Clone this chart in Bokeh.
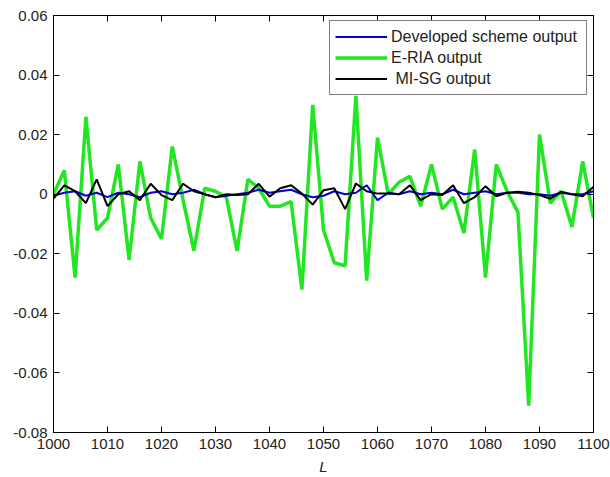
from bokeh.plotting import figure
from bokeh.models import (Range1d, FixedTicker, LinearAxis, Legend, LegendItem,
                          CustomJSTickFormatter)
from bokeh.embed import file_html
from bokeh.resources import INLINE

# ---------------- data ----------------
L = [1000, 1002, 1004, 1006, 1008, 1010, 1012, 1014, 1016, 1018,
     1020, 1022, 1024, 1026, 1028, 1030, 1032, 1034, 1036, 1038,
     1040, 1042, 1044, 1046, 1048, 1050, 1052, 1054, 1056, 1058,
     1060, 1062, 1064, 1066, 1068, 1070, 1072, 1074, 1076, 1078,
     1080, 1082, 1084, 1086, 1088, 1090, 1092, 1094, 1096, 1098, 1100]

developed = [-0.0005, 0.0005, 0.001, -0.0005, 0.0005, -0.001, 0.0005, 0.0, -0.001, 0.0005,
             0.001, 0.0, 0.0005, 0.0015, 0.0, -0.001, -0.0005, 0.0, 0.0005, 0.0015,
             0.0005, 0.001, 0.0015, 0.0, -0.001, -0.0005, 0.001, 0.0, 0.0005, 0.003,
             -0.002, 0.0005, 0.0, 0.001, 0.0, 0.0005, 0.0, 0.0015, 0.0, 0.0005,
             0.001, 0.0, 0.0005, 0.0005, 0.0, 0.0, -0.0005, 0.0005, 0.0, 0.0, 0.001]

eria = [0.000, 0.008, -0.028, 0.026, -0.012, -0.008, 0.010, -0.022, 0.011, -0.008,
        -0.015, 0.016, -0.002, -0.019, 0.002, 0.001, -0.001, -0.019, 0.005, 0.002,
        -0.004, -0.004, -0.0025, -0.032, 0.030, -0.012, -0.023, -0.024, 0.033, -0.029,
        0.019, 0.000, 0.004, 0.006, -0.004, 0.010, -0.005, -0.001, -0.013, 0.015,
        -0.028, 0.010, 0.001, -0.006, -0.071, 0.020, -0.003, 0.001, -0.011, 0.011, -0.008]

misg = [-0.0015, 0.003, 0.001, -0.003, 0.005, -0.004, 0.000, 0.001, -0.002, 0.0035,
        -0.0003, -0.002, 0.0035, 0.001, 0.0, -0.001, 0.0, -0.0003, 0.0, 0.0035,
        -0.0008, 0.002, 0.003, 0.0002, -0.0035, 0.0013, 0.002, -0.005, 0.0036, 0.001,
        0.0002, 0.0002, 0.0, 0.003, -0.002, 0.0, -0.0003, 0.003, -0.003, -0.001,
        0.0027, -0.0007, 0.0005, 0.0008, 0.0005, -0.0003, -0.0015, 0.0008, 0.0, -0.0007, 0.0025]

x_ticks = [1000, 1010, 1020, 1030, 1040, 1050, 1060, 1070, 1080, 1090, 1100]
y_ticks = [-0.08, -0.06, -0.04, -0.02, 0.0, 0.02, 0.04, 0.06]

series_names = ["Developed scheme output", "E-RIA output", " MI-SG output"]

# ---------------- figure ----------------
FONT = "Liberation Sans"
TXT = "#222222"

p = figure(width=610, height=477, output_backend="svg", toolbar_location=None,
           x_range=Range1d(1000, 1100), y_range=Range1d(-0.08, 0.06),
           min_border_left=53, min_border_right=17, min_border_top=15,
           min_border_bottom=43, x_axis_label="L")
p.background_fill_color = "white"
p.border_fill_color = "white"
p.outline_line_color = "black"
p.xgrid.visible = False
p.ygrid.visible = False

yfmt = CustomJSTickFormatter(code="return Math.abs(tick) < 1e-9 ? '0' : tick.toFixed(2);")

for ax in p.xaxis:
    ax.ticker = FixedTicker(ticks=x_ticks)
    ax.axis_label_text_font_style = "italic"
    ax.axis_label_text_font_size = "15px"
    ax.axis_label_text_font = FONT
    ax.axis_label_text_color = TXT
    ax.axis_label_standoff = 6
for ax in p.yaxis:
    ax.ticker = FixedTicker(ticks=y_ticks)
    ax.formatter = yfmt

for ax in list(p.xaxis) + list(p.yaxis):
    ax.major_tick_in = 6
    ax.major_tick_out = 0
    ax.minor_tick_line_color = None
    ax.major_label_text_font = FONT
    ax.major_label_text_font_size = "15px"
    ax.major_label_text_color = TXT
    ax.axis_line_color = "black"
    ax.major_tick_line_color = "black"
    ax.major_label_standoff = 6

# mirrored tick marks on the top and right edges (no labels)
top = LinearAxis(ticker=FixedTicker(ticks=x_ticks), major_tick_in=6, major_tick_out=0,
                 minor_tick_line_color=None, major_label_text_color=None,
                 major_label_standoff=0, axis_line_color="black")
right = LinearAxis(ticker=FixedTicker(ticks=y_ticks), major_tick_in=6, major_tick_out=0,
                   minor_tick_line_color=None, major_label_text_color=None,
                   major_label_standoff=0, axis_line_color="black")
p.add_layout(top, "above")
p.add_layout(right, "right")

r_green = p.line(L, eria, line_color="#22e622", line_width=3.5)
r_blue = p.line(L, developed, line_color="#0000d8", line_width=2)
r_black = p.line(L, misg, line_color="black", line_width=2)

legend = Legend(items=[LegendItem(label=series_names[0], renderers=[r_blue]),
                       LegendItem(label=series_names[1], renderers=[r_green]),
                       LegendItem(label=series_names[2], renderers=[r_black])],
                location=(276, 337))
legend.label_text_font = FONT
legend.label_text_font_size = "16px"
legend.label_text_color = TXT
legend.glyph_width = 52
legend.glyph_height = 21
legend.label_height = 21
legend.label_width = 190
legend.label_standoff = 4
legend.padding = 5
legend.spacing = 0
legend.margin = 0
legend.border_line_color = "black"
legend.border_line_width = 1
legend.background_fill_color = "white"
legend.background_fill_alpha = 1
p.add_layout(legend, "center")

open("out.html", "w").write(file_html(p, INLINE))
